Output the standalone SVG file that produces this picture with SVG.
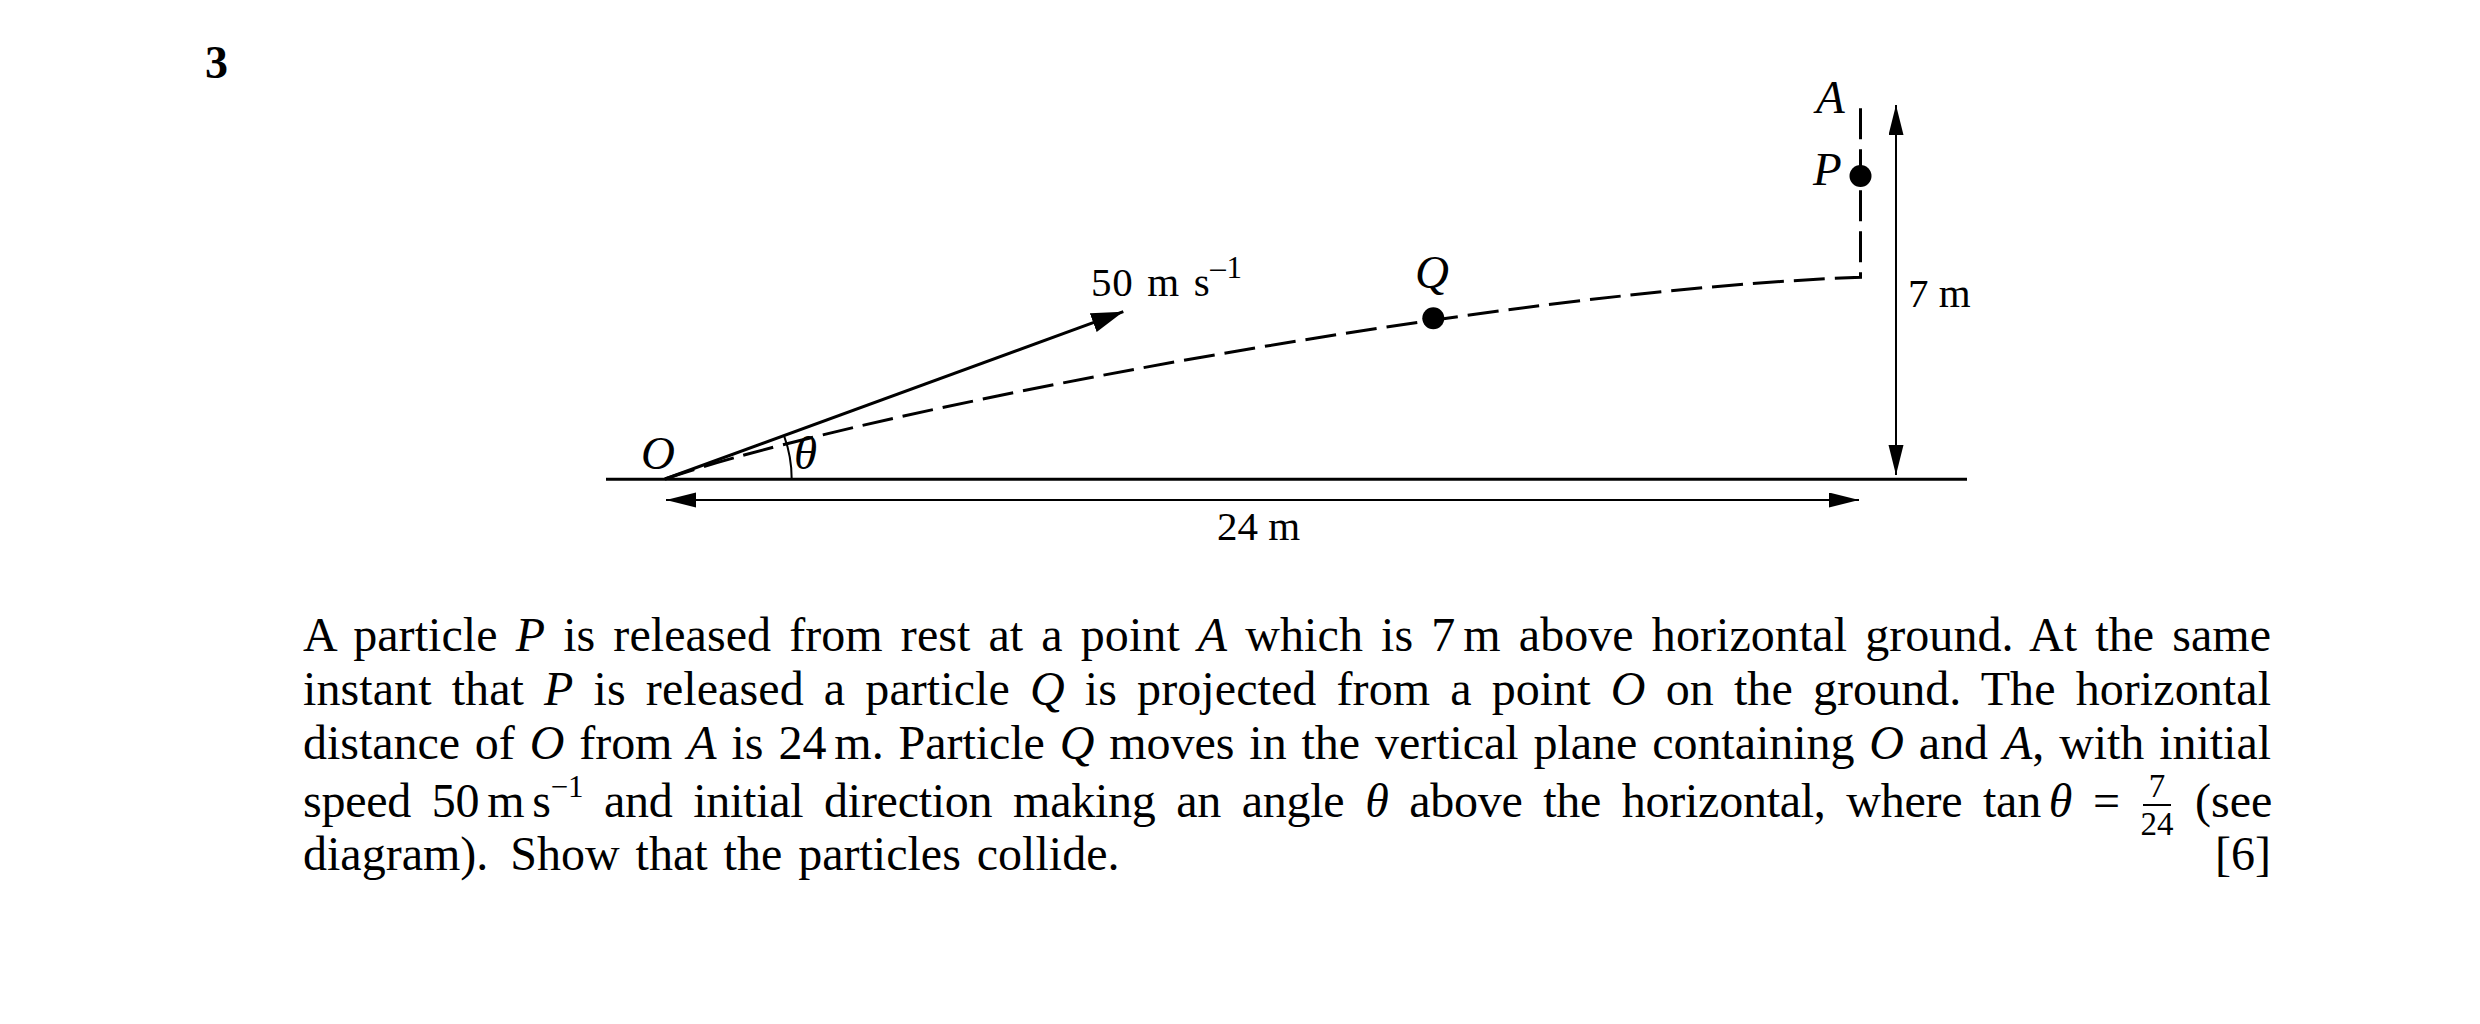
<svg xmlns="http://www.w3.org/2000/svg" width="2480" height="1024" viewBox="0 0 2480 1024">
<style>
text{font-family:"Liberation Serif","Times New Roman",serif;fill:#000}
.lbl{font-size:41px}
.il{font-size:47px;font-style:italic}
.it{font-style:italic}
.body{font-size:48px}
.sup{font-size:31px}
.frac{font-size:33px}
.ln{stroke:#000;fill:none}
.dim{stroke:#000;stroke-width:2;fill:none}
</style>
<defs>
<marker id="dimhead" markerUnits="userSpaceOnUse" markerWidth="32" markerHeight="16" refX="30" refY="7.5" orient="auto-start-reverse" viewBox="0 0 32 16"><path d="M0,0 L30,7.5 L0,15 Z" fill="#000"/></marker>
<marker id="velhead" markerUnits="userSpaceOnUse" markerWidth="34" markerHeight="22" refX="32" refY="10" orient="auto" viewBox="0 0 34 22"><path d="M0,0 L32,10 L0,20 Z" fill="#000"/></marker>
</defs>
<rect width="2480" height="1024" fill="#fff"/>
<text x="205" y="78" style="font-size:46px;font-weight:bold">3</text>
<g id="connectors">
<line id="ground" class="ln" x1="606" y1="479.3" x2="1967" y2="479.3" stroke-width="3"/>
<path id="trajectory" class="ln" d="M665,479 C865,410 1500,290 1860.5,277.3 L1860.5,103" stroke-width="3" stroke-dasharray="31 10"/>
<path id="velocity" class="ln" d="M665,479 L1123.3,311.7" stroke-width="3" marker-end="url(#velhead)"/>
<path id="theta-arc" class="ln" d="M791.7,479.3 A126.7,126.7 0 0 0 784,435.6" stroke-width="2"/>
<line id="dim-horizontal" class="dim" x1="666" y1="500" x2="1859" y2="500" marker-start="url(#dimhead)" marker-end="url(#dimhead)"/>
<line id="dim-vertical" class="dim" x1="1896" y1="105" x2="1896" y2="475" marker-start="url(#dimhead)" marker-end="url(#dimhead)"/>
</g>
<g id="node-O"><text class="il" x="641" y="469">O</text></g>
<g id="node-theta"><text class="il" x="794" y="469">θ</text></g>
<g id="node-speed"><text class="lbl" x="1091" y="296" textLength="151" lengthAdjust="spacing" style="word-spacing:3px">50 m s<tspan class="sup" dy="-18">–1</tspan></text></g>
<g id="node-Q"><circle cx="1433.3" cy="318.3" r="11"/><text class="il" x="1415" y="288">Q</text></g>
<g id="node-P"><circle cx="1860.5" cy="176" r="11"/><text class="il" x="1813" y="185">P</text></g>
<g id="node-A"><text class="il" x="1816" y="113">A</text></g>
<g id="node-7m"><text class="lbl" x="1908" y="307">7 m</text></g>
<g id="node-24m"><text class="lbl" x="1217" y="540">24 m</text></g>
<g id="question-text">
<text class="body" x="303" y="651" textLength="1968" lengthAdjust="spacing" style="word-spacing:6px">A particle <tspan class="it">P</tspan> is released from rest at a point <tspan class="it">A</tspan> which is 7<tspan dx="8">m</tspan> above horizontal ground.  At the same</text>
<text class="body" x="303" y="705" textLength="1968" lengthAdjust="spacing" style="word-spacing:8px">instant that <tspan class="it">P</tspan> is released a particle <tspan class="it">Q</tspan> is projected from a point <tspan class="it">O</tspan> on the ground.  The horizontal</text>
<text class="body" x="303" y="759" textLength="1968" lengthAdjust="spacing" style="word-spacing:3px">distance of <tspan class="it">O</tspan> from <tspan class="it">A</tspan> is 24<tspan dx="8">m.</tspan> Particle <tspan class="it">Q</tspan> moves in the vertical plane containing <tspan class="it">O</tspan> and <tspan class="it">A</tspan>, with initial</text>
<text class="body" x="303" y="817" textLength="1817" lengthAdjust="spacing" style="word-spacing:9px">speed 50<tspan dx="8">m</tspan><tspan dx="8">s</tspan><tspan class="sup" dy="-20">−1</tspan><tspan dy="20"> and initial direction making an angle </tspan><tspan class="it">θ</tspan> above the horizontal, where tan<tspan class="it" dx="8">θ</tspan> =</text>
<text class="frac" x="2157" y="797" text-anchor="middle">7</text>
<line x1="2143" y1="805" x2="2171" y2="805" stroke="#000" stroke-width="2"/>
<text class="frac" x="2157" y="835" text-anchor="middle">24</text>
<text class="body" x="2195" y="817">(see</text>
<text class="body" x="303" y="870" style="word-spacing:4px">diagram).<tspan dx="6"> Show</tspan> that the particles collide.</text>
<text class="body" x="2271" y="870" text-anchor="end">[6]</text>
</g>
</svg>
